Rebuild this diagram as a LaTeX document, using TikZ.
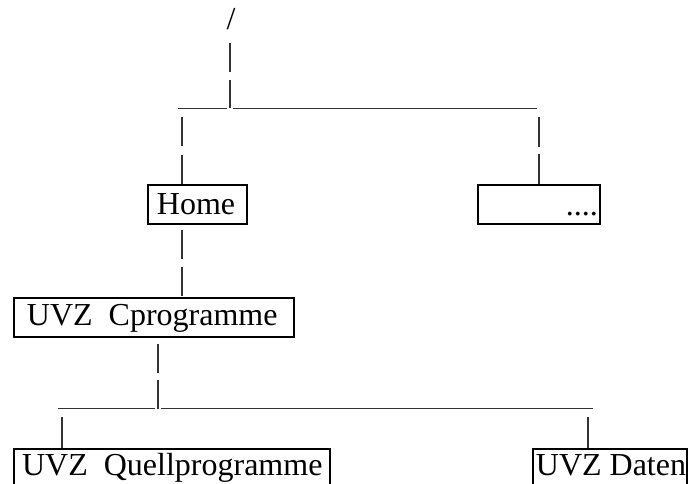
\documentclass[tikz,border=0pt]{standalone}
\usepackage{fontspec}
\setmainfont{Liberation Serif}
\tikzset{
  conn/.style={line width=1.1pt, draw=black!80},
  vseg/.style={conn, dash pattern=on 29pt off 8pt},
  box/.style={draw, line width=1.8pt, anchor=north west, inner ysep=0pt,
              font=\fontsize{32}{38}\selectfont},
  lbl/.style={inner sep=0pt, font=\fontsize{32}{38}\selectfont}
}
\begin{document}
\begin{tikzpicture}[x=1pt,y=-1pt]
\useasboundingbox (0,0) rectangle (691,484);
% nodes
\node[lbl, anchor=base] (root) at (231,29.5) {/};
\node[box, inner xsep=9pt, text height=30pt, text depth=9pt] (home) at (147,184) {\makebox[81pt][l]{Home}};
\node[box, inner xsep=2pt, text height=31pt, text depth=8pt] (more) at (477,184) {\makebox[118pt][r]{....}};
\node[box, inner xsep=13pt, text height=27.5pt, text depth=11.5pt] (cprog) at (13,297) {\makebox[254pt][l]{UVZ\ \ Cprogramme}};
\node[box, inner xsep=8.5pt, text height=27pt, text depth=12pt] (quell) at (12.7,448) {\makebox[299pt][l]{UVZ\ \ Quellprogramme}};
\node[box, inner xsep=3pt, text height=26.5pt, text depth=12.5pt] (daten) at (532,448) {\makebox[148pt][l]{UVZ Daten}};
% junction coordinates
\coordinate (t0) at (230,43);
\coordinate (j1) at (230,108.5);
\coordinate (h1l) at (178,108.5);
\coordinate (h1r) at (537,108.5);
\coordinate (b1) at (182,117);
\coordinate (b2) at (539,117);
\coordinate (b3) at (182,230);
\coordinate (b4) at (158,344);
\coordinate (j2) at (158,408.5);
\coordinate (h2l) at (58,408.5);
\coordinate (h2r) at (593,408.5);
\coordinate (b5) at (62,417);
\coordinate (b6) at (588,417);
% connectors
\draw[vseg] (t0) -- (j1);
\draw[conn] (h1l) -- ([xshift=-3.5pt]j1);
\draw[conn] ([xshift=2.7pt]j1) -- (h1r);
\draw[vseg, dash pattern=on 29pt off 9pt] (b1) -- (b1 |- home.north);
\draw[vseg, dash pattern=on 30pt off 7pt] (b2) -- (b2 |- more.north);
\draw[vseg] (b3) -- (b3 |- cprog.north);
\draw[vseg, dash pattern=on 29pt off 7pt] (b4) -- (j2);
\draw[conn] (h2l) -- ([xshift=-3.5pt]j2);
\draw[conn] ([xshift=2.5pt]j2) -- (h2r);
\draw[conn] (b5) -- (b5 |- quell.north);
\draw[conn] (b6) -- (b6 |- daten.north);
\end{tikzpicture}
\end{document}
